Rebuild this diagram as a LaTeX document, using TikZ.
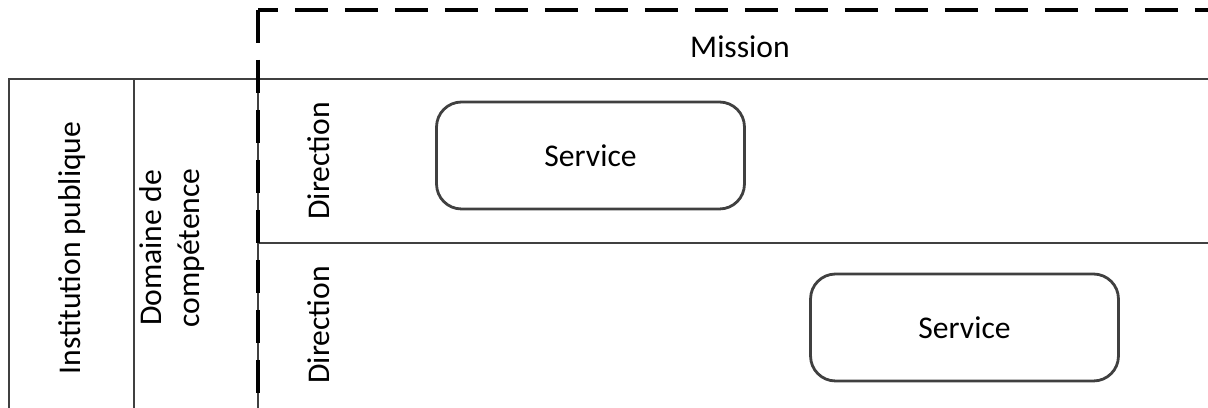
\documentclass[tikz,border=0pt]{standalone}
\usepackage{fontspec}
\setmainfont{Carlito}
\begin{document}
\begin{tikzpicture}[x=0.02cm, y=-0.02cm,
    every node/.style={font=\fontsize{18}{22}\selectfont},
    grid/.style={line width=1.6pt, draw=black!75},
    frame/.style={line width=1.8pt, draw=black, dash pattern=on 0.66cm off 0.34cm},
    service/.style={draw=black!75, line width=1.6pt, rounded corners=0.5cm,
      minimum width=6.16cm, minimum height=2.14cm, inner sep=0pt}]
  \useasboundingbox (0,0) rectangle (1208,408);

  % Table
  \draw[grid] (9,412) -- (9,79) -- (1212,79);
  \draw[grid] (134,79) -- (134,412);
  \draw[grid] (258,79) -- (258,412);
  \draw[grid] (258,243) -- (1212,243);

  % Mission frame
  \draw[frame] (258,10) -- (258,412);
  \draw[frame, dash phase=0.26cm] (258,10) -- (1212,10);
  \node (mission) at (740,47) {Mission};

  % Side labels
  \node[rotate=90] (inst) at (72,248) {Institution publique};
  \node[rotate=90, align=center] (domaine) at (172,248) {Domaine de\\comp\'etence};
  \node[rotate=90] (dir1) at (319,161) {Direction};
  \node[rotate=90] (dir2) at (319,325) {Direction};

  % Services
  \node[service] (serv1) at (590.5,155.5) {Service};
  \node[service] (serv2) at (964.5,327.5) {Service};
\end{tikzpicture}
\end{document}
